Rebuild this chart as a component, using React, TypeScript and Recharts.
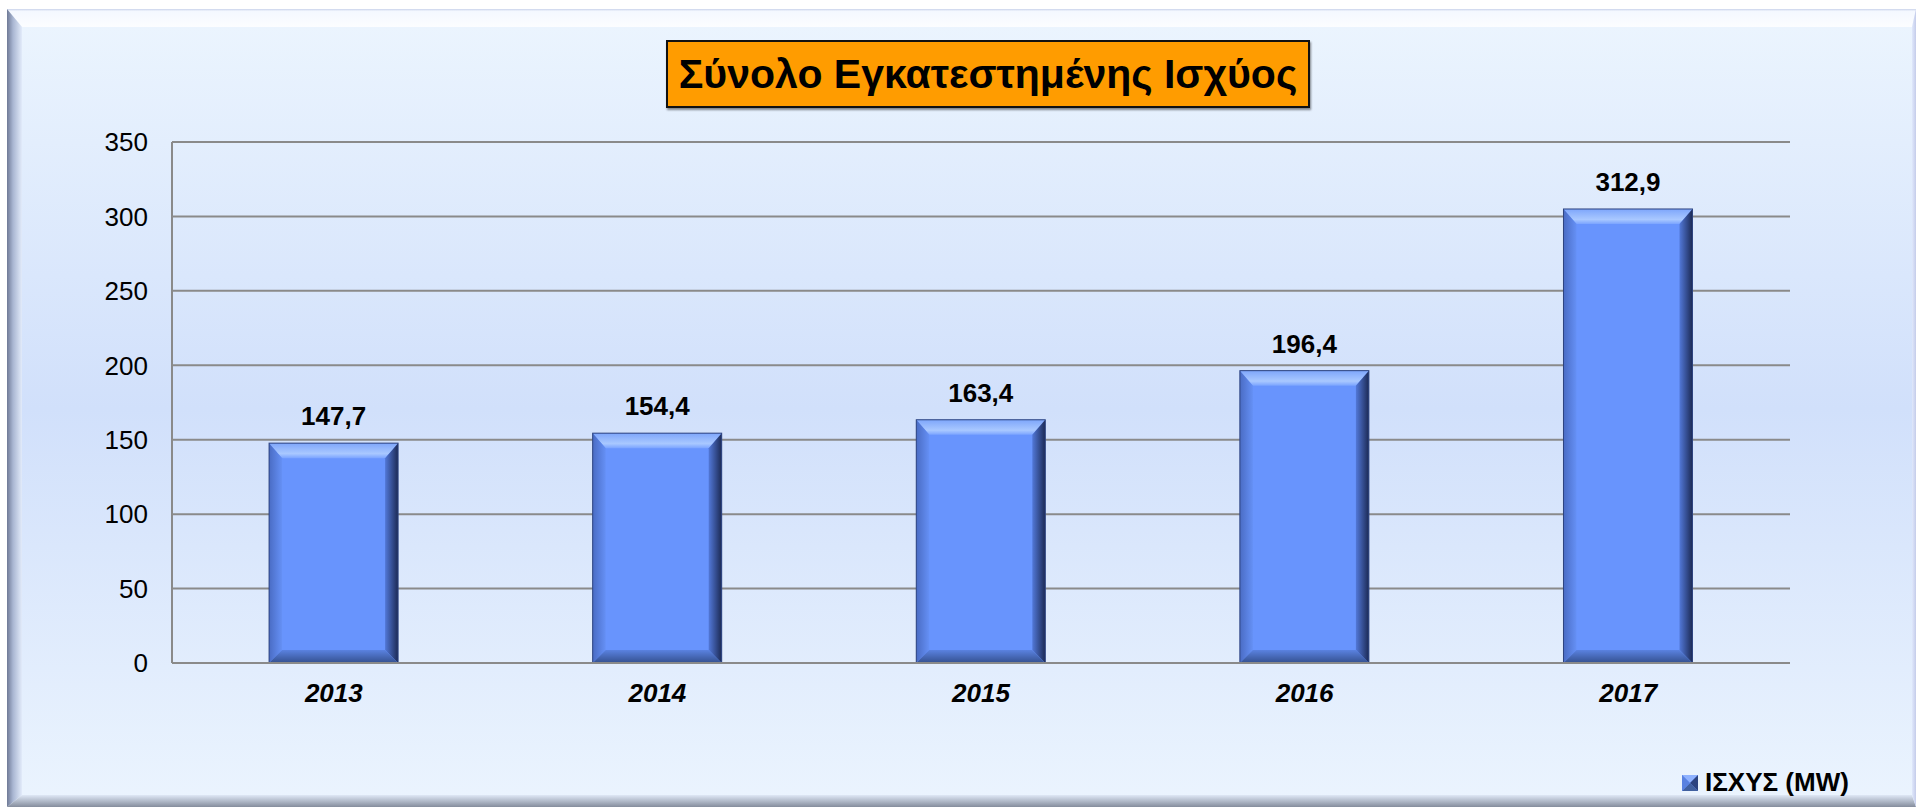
import React from 'react';
import { BarChart, Bar, XAxis, YAxis, CartesianGrid, LabelList, Legend } from 'recharts';

const years = ['2013', '2014', '2015', '2016', '2017'];
const powerMW = [147.7, 154.4, 163.4, 196.4, 305];
const valueLabels = ['147,7', '154,4', '163,4', '196,4', '312,9'];
const yTicks = [0, 50, 100, 150, 200, 250, 300, 350];
const seriesName = 'ΙΣΧΥΣ (MW)';
const title = 'Σύνολο Εγκατεστημένης Ισχύος';

const data = years.map((y, i) => ({ year: y, power: powerMW[i], label: valueLabels[i] }));

const W = 1916;
const H = 807;
const FONT = '"Liberation Sans", Arial, sans-serif';

const BevelBar = (props: any) => {
  const { x, y, width, height, index } = props;
  if (height <= 0) return null;
  const b = 13;
  const bt = 15;
  const id = `bb${index}`;
  return (
    <g>
      <defs>
        <linearGradient id={`${id}t`} x1="0" y1="0" x2="0" y2="1">
          <stop offset="0%" stopColor="#7ea6fb" />
          <stop offset="70%" stopColor="#a9c8ff" />
          <stop offset="100%" stopColor="#7ba4ff" />
        </linearGradient>
        <linearGradient id={`${id}r`} x1="0" y1="0" x2="1" y2="0">
          <stop offset="0%" stopColor="#5278d8" />
          <stop offset="100%" stopColor="#1c2a55" />
        </linearGradient>
        <linearGradient id={`${id}b`} x1="0" y1="0" x2="0" y2="1">
          <stop offset="0%" stopColor="#5a82e0" />
          <stop offset="100%" stopColor="#34508f" />
        </linearGradient>
        <linearGradient id={`${id}l`} x1="0" y1="0" x2="1" y2="0">
          <stop offset="0%" stopColor="#4a6cc4" />
          <stop offset="100%" stopColor="#6590f5" />
        </linearGradient>
      </defs>
      <rect x={x} y={y} width={width} height={height} fill="#6894fd" />
      <polygon points={`${x},${y} ${x + width},${y} ${x + width - b},${y + bt} ${x + b},${y + bt}`} fill={`url(#${id}t)`} />
      <polygon points={`${x},${y} ${x + b},${y + bt} ${x + b},${y + height - b} ${x},${y + height}`} fill={`url(#${id}l)`} />
      <polygon points={`${x + width},${y} ${x + width},${y + height} ${x + width - b},${y + height - b} ${x + width - b},${y + bt}`} fill={`url(#${id}r)`} />
      <polygon points={`${x},${y + height} ${x + b},${y + height - b} ${x + width - b},${y + height - b} ${x + width},${y + height}`} fill={`url(#${id}b)`} />
      <rect x={x} y={y} width={width} height={height} fill="none" stroke="#2d437e" strokeWidth={1} />
    </g>
  );
};

const LegendContent = () => (
  <div style={{ display: 'flex', alignItems: 'center', fontFamily: FONT, fontWeight: 'bold', fontSize: 26, color: '#000', whiteSpace: 'nowrap' }}>
    <svg width={16} height={16} style={{ marginRight: 7 }}>
      <rect x={0} y={0} width={16} height={16} fill="#6894fd" />
      <polygon points="0,0 16,0 8,8" fill="#8fb2ff" />
      <polygon points="16,0 16,16 8,8" fill="#2c4380" />
      <polygon points="0,16 16,16 8,8" fill="#41609f" />
      <polygon points="0,0 0,16 8,8" fill="#5a82e0" />
    </svg>
    <span>{seriesName}</span>
  </div>
);

export default function App() {
  return (
    <div style={{ position: 'absolute', left: 0, top: 0, width: W, height: H, background: '#ffffff', overflow: 'hidden' }}>
      <svg width={W} height={H} style={{ position: 'absolute', left: 0, top: 0 }}>
        <defs>
          <linearGradient id="bgGrad" x1="0" y1="0" x2="0" y2="1">
            <stop offset="0%" stopColor="#ecf5fe" />
            <stop offset="50%" stopColor="#d1e0fb" />
            <stop offset="100%" stopColor="#ebf4fe" />
          </linearGradient>
          <linearGradient id="topBev" x1="0" y1="0" x2="0" y2="1">
            <stop offset="0%" stopColor="#c9d2ea" />
            <stop offset="12%" stopColor="#f4f8ff" />
            <stop offset="100%" stopColor="#fcfdff" />
          </linearGradient>
          <linearGradient id="leftBev" x1="0" y1="0" x2="1" y2="0">
            <stop offset="0%" stopColor="#6f7a96" />
            <stop offset="40%" stopColor="#a9b6d2" />
            <stop offset="100%" stopColor="#e2ebfa" />
          </linearGradient>
          <linearGradient id="botBev" x1="0" y1="0" x2="0" y2="1">
            <stop offset="0%" stopColor="#dfe8f6" />
            <stop offset="100%" stopColor="#858d9d" />
          </linearGradient>
          <linearGradient id="rightBev" x1="0" y1="0" x2="1" y2="0">
            <stop offset="0%" stopColor="#e0e8fb" />
            <stop offset="100%" stopColor="#c4ccea" />
          </linearGradient>
        </defs>
        <rect x={7} y={9} width={1909} height={798} fill="url(#bgGrad)" />
        <polygon points="7,9 1916,9 1912,27 22,27" fill="url(#topBev)" />
        <polygon points="7,9 22,27 22,795 7,807" fill="url(#leftBev)" />
        <polygon points="7,807 22,795 1912,795 1916,807" fill="url(#botBev)" />
        <polygon points="1916,9 1912,27 1912,795 1916,807" fill="url(#rightBev)" />
      </svg>

      <div
        style={{
          position: 'absolute',
          left: 666,
          top: 40,
          width: 640,
          height: 64,
          background: '#ff9c00',
          border: '2px solid #111',
          boxShadow: '1px 2px 2px rgba(0,0,0,0.45)',
          display: 'flex',
          alignItems: 'center',
          justifyContent: 'center',
          fontFamily: FONT,
          fontWeight: 'bold',
          fontSize: 41,
          color: '#000',
          whiteSpace: 'nowrap',
        }}
      >
        {title}
      </div>

      <div style={{ position: 'absolute', left: 0, top: 0 }}>
        <BarChart width={W} height={H} data={data} margin={{ top: 142, right: 126, bottom: 84, left: 0 }} barCategoryGap="30%">
          <CartesianGrid horizontal vertical={false} stroke="#8a8a8a" strokeWidth={2} />
          <XAxis
            dataKey="year"
            height={60}
            tickLine={false}
            axisLine={{ stroke: '#8a8a8a', strokeWidth: 2 }}
            tickMargin={15}
            tick={{ fontFamily: FONT, fontWeight: 'bold', fontStyle: 'italic', fontSize: 26, fill: '#000' }}
          />
          <YAxis
            width={172}
            domain={[0, 350]}
            ticks={yTicks}
            interval={0}
            tickLine={false}
            tickSize={6}
            tickMargin={18}
            axisLine={{ stroke: '#8a8a8a', strokeWidth: 2 }}
            tick={{ fontFamily: FONT, fontSize: 26, fill: '#000' }}
          />
          <Legend
            layout="horizontal"
            verticalAlign="middle"
            align="center"
            content={LegendContent}
            wrapperStyle={{ left: 1682, top: 767, width: 'auto' }}
          />
          <Bar dataKey="power" name={seriesName} shape={BevelBar} isAnimationActive={false}>
            <LabelList dataKey="label" position="top" offset={18} style={{ fontFamily: FONT, fontWeight: 'bold', fontSize: 26, fill: '#000' }} />
          </Bar>
        </BarChart>
      </div>
    </div>
  );
}
